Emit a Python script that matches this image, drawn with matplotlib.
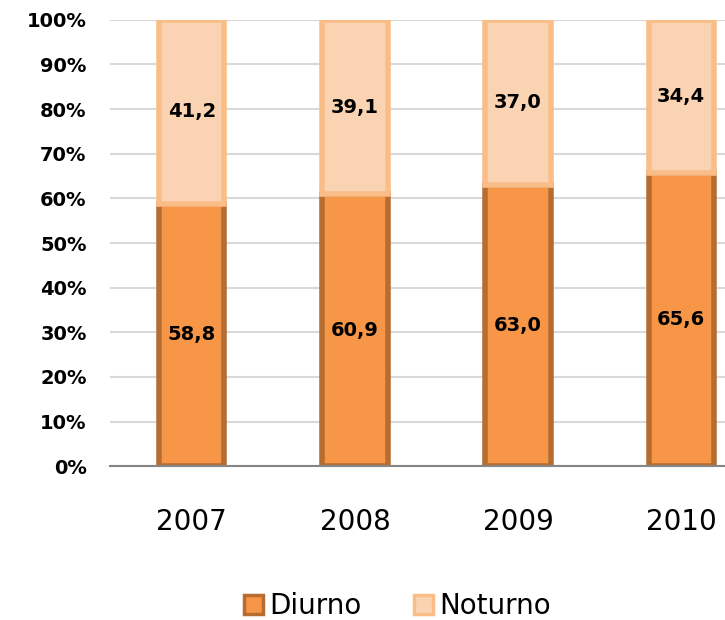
import numpy as np
import matplotlib
matplotlib.use("Agg")
from matplotlib import pyplot as plt
from matplotlib.patches import Patch

years = ["2007", "2008", "2009", "2010"]
diurno = [58.8, 60.9, 63.0, 65.6]
noturno = [41.2, 39.1, 37.0, 34.4]
yticks = [0, 10, 20, 30, 40, 50, 60, 70, 80, 90, 100]

###
fig = plt.figure(figsize=(7.25, 6.2), dpi=100)
ax = fig.add_axes([0.152, 0.248, 0.900, 0.720])

x = np.arange(len(years))
w = 0.40
ax.bar(x, diurno, width=w, color="#F79646", edgecolor="#B66D31", lw=4, zorder=3)
ax.bar(x, noturno, width=w, bottom=diurno, color="#FAD4B2", edgecolor="#FBBD88", lw=4, zorder=3)

for i in range(len(years)):
    ax.text(x[i], diurno[i] / 2, "{:.1f}".format(diurno[i]).replace(".", ","),
            ha="center", va="center", fontsize=14, fontweight="bold", zorder=4)
    ax.text(x[i], diurno[i] + noturno[i] / 2, "{:.1f}".format(noturno[i]).replace(".", ","),
            ha="center", va="center", fontsize=14, fontweight="bold", zorder=4)

ax.set_xlim(-0.5, len(years) - 0.5)
ax.set_ylim(0, 100)
ax.set_yticks(yticks)
ax.set_yticklabels(["{}%".format(t) for t in yticks], fontsize=14, fontweight="bold")
ax.set_xticks(x)
ax.set_xticklabels(years, fontsize=20)
ax.tick_params(axis="both", length=0)
ax.tick_params(axis="x", pad=30)
ax.tick_params(axis="y", pad=17)
ax.yaxis.grid(True, color="#D9D9D9", lw=1.5, zorder=0)
for s in ["top", "right", "left"]:
    ax.spines[s].set_visible(False)
ax.spines["bottom"].set_color("#868686")
ax.spines["bottom"].set_linewidth(1.5)
ax.spines["bottom"].set_zorder(5)

handles = [Patch(facecolor="#F79646", edgecolor="#B66D31", lw=2.5, label="Diurno"),
           Patch(facecolor="#FAD4B2", edgecolor="#FBBD88", lw=2.5, label="Noturno")]
fig.legend(handles=handles, loc="center", bbox_to_anchor=(0.548, 0.022), ncol=2,
           frameon=False, fontsize=20, handlelength=0.7, handleheight=0.7,
           handletextpad=0.2, columnspacing=1.9)

fig.savefig("out.png", dpi=100)
